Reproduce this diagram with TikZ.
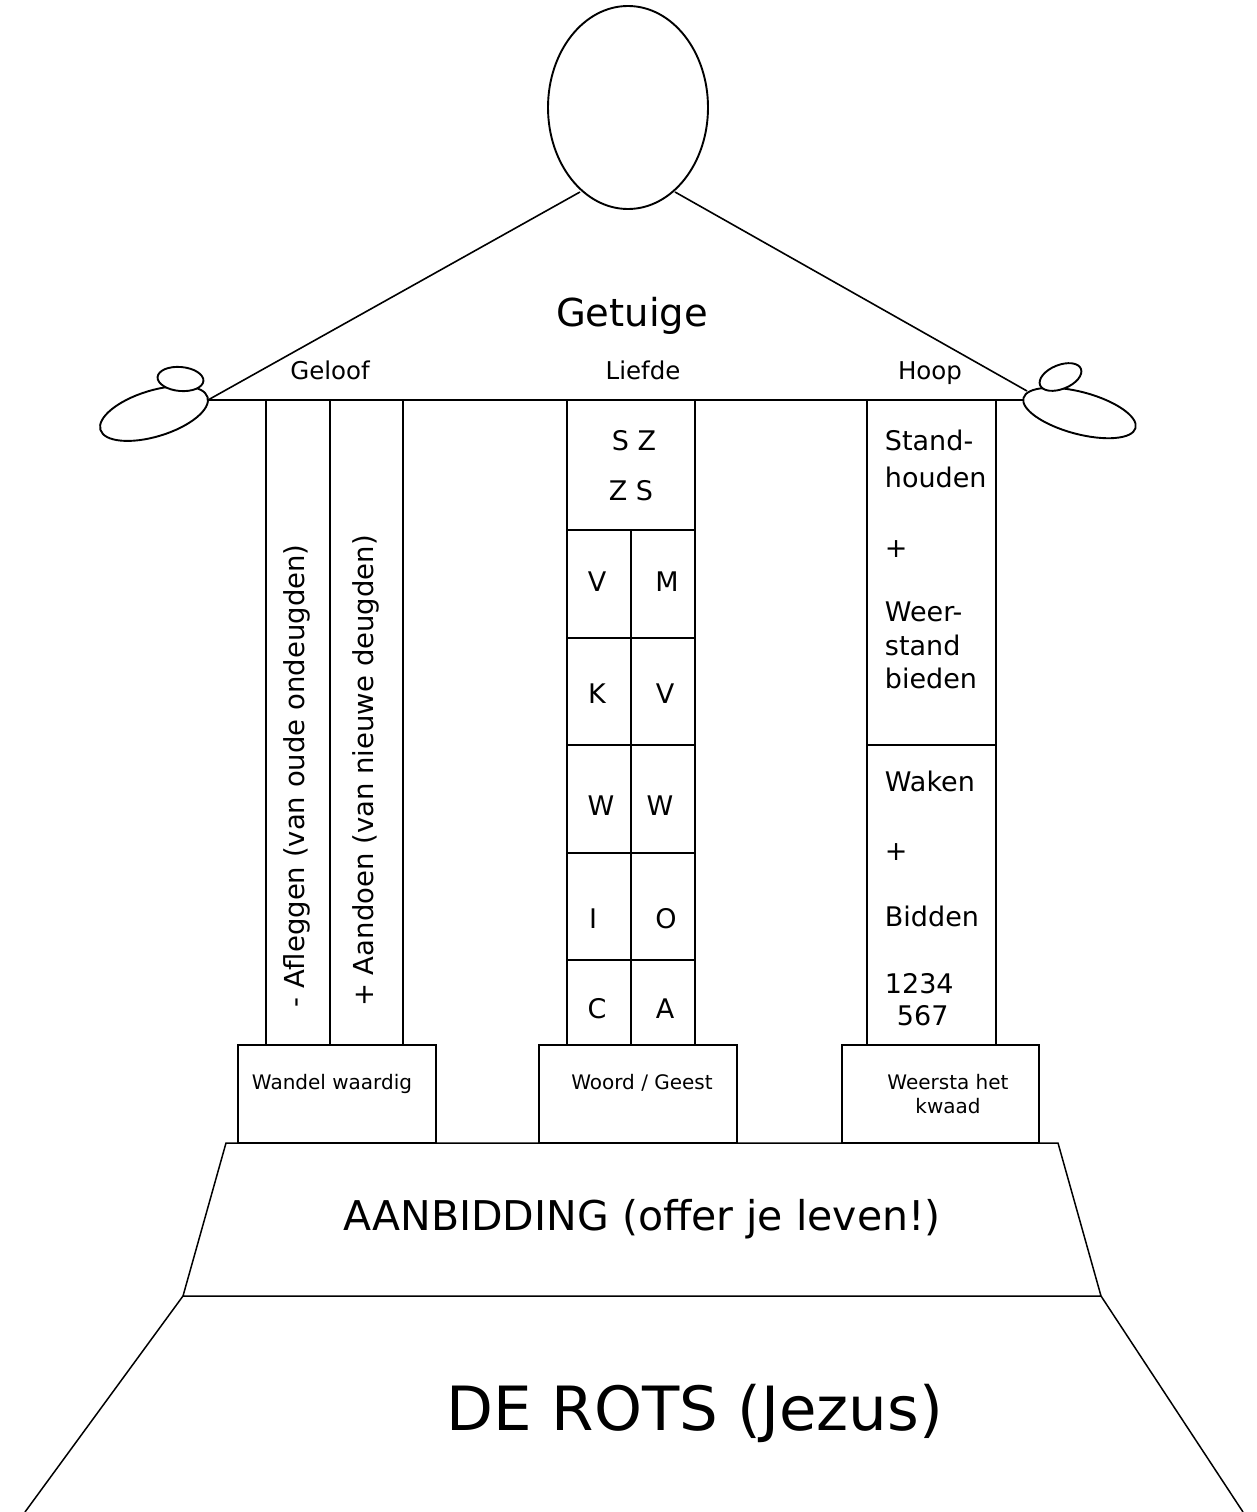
\documentclass[tikz,border=0pt]{standalone}
\usepackage{fontspec}
\setmainfont{DejaVu Sans}
\newcommand{\fsz}[1]{\fontsize{#1}{#1}\selectfont}
\begin{document}
\begin{tikzpicture}[x=1pt,y=1pt,line width=1.9pt,
  txt/.style={inner sep=0pt,anchor=base},
  ltxt/.style={inner sep=0pt,anchor=base west},
  handbig/.style={draw,fill=white,line width=1.9pt},
  ground/.style={line width=1.5pt},
]
\useasboundingbox (0,0) rectangle (1257,-1512);
% roof
\coordinate (lh) at (208,-400);
\coordinate (rh) at (1027,-391);
\coordinate (rb) at (1023,-400);
\draw[line width=1.6pt] (580,-192) -- (lh);
\draw[line width=1.6pt] (675,-192) -- (rh);
\draw (lh) -- (rb);
% head
\draw[fill=white] (628,-107.5) ellipse [x radius=80, y radius=101.5];
% hands
\draw[handbig] (154,-413.5) ellipse [x radius=56, y radius=23, rotate=17];
\draw[handbig] (180.5,-379) ellipse [x radius=23, y radius=12, rotate=-5];
\draw[handbig] (1079.5,-413) ellipse [x radius=58, y radius=21, rotate=-15];
\draw[handbig] (1060.5,-377) ellipse [x radius=22, y radius=12, rotate=22];
% labels roof
\node[txt,font=\fsz{38.5}] (getuige) at (632,-326) {Getuige};
\node[txt,font=\fsz{24.5}] (geloof) at (330,-379) {Geloof};
\node[txt,font=\fsz{24.5}] (liefde) at (643,-379) {Liefde};
\node[txt,font=\fsz{24.5}] (hoop) at (930,-379) {Hoop};
% left pillar
\draw (266,-400) -- (266,-1045);
\draw (330,-400) -- (330,-1045);
\draw (403,-400) -- (403,-1045);
\node[inner sep=0pt,rotate=90,font=\fsz{27.5}] (afl) at (297,-776) {- Afleggen (van oude ondeugden)};
\node[inner sep=0pt,rotate=90,font=\fsz{27.5}] (aand) at (366,-771) {+ Aandoen (van nieuwe deugden)};
% middle pillar
\draw (567,-400) rectangle (695,-1045);
\foreach \yy in {530,638,745,853,960} \draw (567,-\yy) -- (695,-\yy);
\draw (631,-530) -- (631,-1045);
\node[txt,font=\fsz{27}] (sz) at (634,-450) {S Z};
\node[txt,font=\fsz{27}] (zs) at (631,-500) {Z S};
\node[txt,font=\fsz{27}] (m1) at (597,-591) {V};
\node[txt,font=\fsz{27}] (m2) at (667,-591) {M};
\node[txt,font=\fsz{27}] (m3) at (597,-703) {K};
\node[txt,font=\fsz{27}] (m4) at (665,-703) {V};
\node[txt,font=\fsz{27}] (m5) at (601,-815) {W};
\node[txt,font=\fsz{27}] (m6) at (660,-815) {W};
\node[txt,font=\fsz{27}] (m7) at (593,-928) {I};
\node[txt,font=\fsz{27}] (m8) at (666,-928) {O};
\node[txt,font=\fsz{27}] (m9) at (597,-1018) {C};
\node[txt,font=\fsz{27}] (m10) at (665,-1018) {A};
% right pillar
\draw (867,-400) rectangle (996,-1045);
\draw (867,-745) -- (996,-745);
\node[ltxt,font=\fsz{27}] (r1) at (884,-450) {Stand-};
\node[ltxt,font=\fsz{27}] (r2) at (884,-487) {houden};
\node[ltxt,font=\fsz{27}] (r3) at (884,-557) {+};
\node[ltxt,font=\fsz{27}] (r4) at (884,-621) {Weer-};
\node[ltxt,font=\fsz{27}] (r5) at (884,-655) {stand};
\node[ltxt,font=\fsz{27}] (r6) at (884,-688) {bieden};
\node[ltxt,font=\fsz{27}] (r7) at (884,-791) {Waken};
\node[ltxt,font=\fsz{27}] (r8) at (884,-860) {+};
\node[ltxt,font=\fsz{27}] (r9) at (884,-926) {Bidden};
\node[ltxt,font=\fsz{27}] (r10) at (884,-993) {1234};
\node[ltxt,font=\fsz{27}] (r11) at (896,-1025) {567};
% bases
\draw (238,-1045) rectangle (436,-1143);
\draw (539,-1045) rectangle (737,-1143);
\draw (842,-1045) rectangle (1039,-1143);
\node[txt,font=\fsz{20}] (b1) at (332,-1089) {Wandel waardig};
\node[txt,font=\fsz{20}] (b2) at (642,-1089) {Woord / Geest};
\node[txt,font=\fsz{20}] (b3) at (948,-1089) {Weersta het};
\node[txt,font=\fsz{20}] (b4) at (948,-1113) {kwaad};
% trapezoid
\draw[ground] (226,-1143) -- (1058,-1143) -- (1101,-1296) -- (183,-1296) -- cycle;
\node[txt,font=\fsz{41}] (aanb) at (642,-1230) {AANBIDDING (offer je leven!)};
% rock
\draw[ground] (183,-1296) -- (25,-1512);
\draw[ground] (1101,-1296) -- (1243,-1512);
\node[txt,font=\fsz{61}] (rots) at (695,-1430) {DE ROTS (Jezus)};
\end{tikzpicture}
\end{document}
